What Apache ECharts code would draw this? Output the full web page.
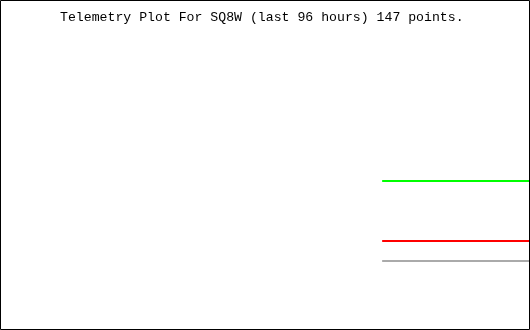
<!DOCTYPE html>
<html>
<head>
<meta charset="utf-8">
<style>html,body{margin:0;padding:0;background:#fff;}#c{width:530px;height:330px;}</style>
<script src="https://cdn.jsdelivr.net/npm/echarts@6/dist/echarts.min.js"></script>
</head>
<body>
<div id="c"></div>
<script>
// Hours since start of the 96-hour window
const hours = [69.3, 96];
const greenValues = [44.07, 44.07];
const redValues = [21.85, 21.85];
const grayValues = [14.44, 14.44];
const titleText = 'Telemetry Plot For SQ8W (last 96 hours) 147 points.';

const chart = echarts.init(document.getElementById('c'), null, {renderer: 'canvas'});
const mk = (vals, color) => ({
  type: 'line',
  data: hours.map((h, i) => [h, vals[i]]),
  showSymbol: false,
  lineStyle: {color: color, width: 2},
  animation: false
});
chart.setOption({
  animation: false,
  backgroundColor: '#ffffff',
  title: {
    text: titleText,
    left: 60, top: 11, padding: 0,
    textStyle: {fontFamily: 'Liberation Mono', fontSize: 13.2, fontWeight: 'normal', color: '#000'}
  },
  grid: {left: 1, right: 1, top: 30, bottom: 30},
  xAxis: {type: 'value', min: 0, max: 96, show: false},
  yAxis: {type: 'value', min: 0, max: 100, show: false},
  series: [mk(greenValues, '#00ff00'), mk(redValues, '#ff0000'), mk(grayValues, '#aaaaaa')],
  graphic: [{
    type: 'rect', z: 100,
    shape: {x: 0.5, y: 0.5, width: 529, height: 329},
    style: {fill: null, stroke: '#000', lineWidth: 1}
  }]
});
</script>
</body>
</html>
